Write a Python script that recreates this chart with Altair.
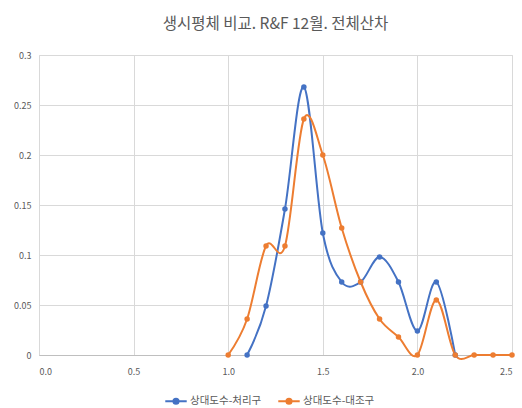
import altair as alt
import pandas as pd

# Relative frequency by carcass class, treatment vs. control group
treat_x = [1.1, 1.2, 1.3, 1.4, 1.5, 1.6, 1.7, 1.8, 1.9, 2.0, 2.1, 2.2]
treat_y = [0.0, 0.049, 0.146, 0.268, 0.122, 0.073, 0.073, 0.098, 0.073, 0.024, 0.073, 0.0]

ctrl_x = [1.0, 1.1, 1.2, 1.3, 1.4, 1.5, 1.6, 1.7, 1.8, 1.9, 2.0, 2.1, 2.2, 2.3, 2.4, 2.5]
ctrl_y = [0.0, 0.036, 0.109, 0.109, 0.236, 0.2, 0.127, 0.073, 0.036, 0.018, 0.0, 0.055, 0.0, 0.0, 0.0, 0.0]

series_names = ["상대도수-처리구", "상대도수-대조구"]
series_colors = ["#4472C4", "#ED7D31"]

rows = []
for x, y in zip(treat_x, treat_y):
    rows.append({"x": x, "y": y, "series": series_names[0], "order": 0})
for x, y in zip(ctrl_x, ctrl_y):
    rows.append({"x": x, "y": y, "series": series_names[1], "order": 1})
df = pd.DataFrame(rows)

FONT = "Noto Sans CJK KR"
GRAY = "#595959"

# line symbol with a dot in the middle for the legend entries
legend_symbol = "M-1,0L1,0M0.24,0A0.24,0.24 0 1 1 -0.24,0A0.24,0.24 0 1 1 0.24,0Z"

chart = (
    alt.Chart(df)
    .mark_line(
        interpolate="cardinal",
        tension=0,
        strokeWidth=2,
        point=alt.OverlayMarkDef(filled=True, size=30),
    )
    .encode(
        x=alt.X(
            "x:Q",
            scale=alt.Scale(domain=[0, 2.5], nice=False),
            axis=alt.Axis(
                values=[0, 0.5, 1.0, 1.5, 2.0, 2.5],
                format=".1f",
                title=None,
                labelFont=FONT,
                labelFontSize=9,
                labelColor=GRAY,
                labelPadding=12,
                ticks=False,
                domainColor="#BFBFBF",
                gridColor="#D9D9D9",
            ),
        ),
        y=alt.Y(
            "y:Q",
            scale=alt.Scale(domain=[0, 0.3], nice=False),
            axis=alt.Axis(
                values=[0, 0.05, 0.1, 0.15, 0.2, 0.25, 0.3],
                format="~g",
                title=None,
                labelFont=FONT,
                labelFontSize=9,
                labelColor=GRAY,
                labelPadding=8,
                ticks=False,
                domain=False,
                gridColor="#D9D9D9",
            ),
        ),
        color=alt.Color(
            "series:N",
            scale=alt.Scale(domain=series_names, range=series_colors),
            legend=alt.Legend(
                title=None,
                orient="none",
                legendX=125,
                legendY=334,
                direction="horizontal",
                symbolType=legend_symbol,
                symbolSize=460,
                symbolStrokeWidth=2,
                labelFont=FONT,
                labelFontSize=10.5,
                labelColor=GRAY,
                labelOffset=2,
                columnPadding=12,
            ),
        ),
        order=alt.Order("order:Q"),
    )
    .properties(
        width=473,
        height=300,
        title=alt.TitleParams(
            "생시평체 비교. R&F 12월. 전체산차",
            font=FONT,
            fontSize=15.5,
            fontWeight="normal",
            color=GRAY,
            anchor="middle",
            offset=19,
        ),
        autosize=alt.AutoSizeParams(type="none"),
        padding={"left": 39, "top": 55, "right": 10, "bottom": 53},
    )
    .configure_view(stroke=None)
    .configure(background="white")
)

chart.save("out.html", embed_options={"renderer": "svg", "actions": False})
